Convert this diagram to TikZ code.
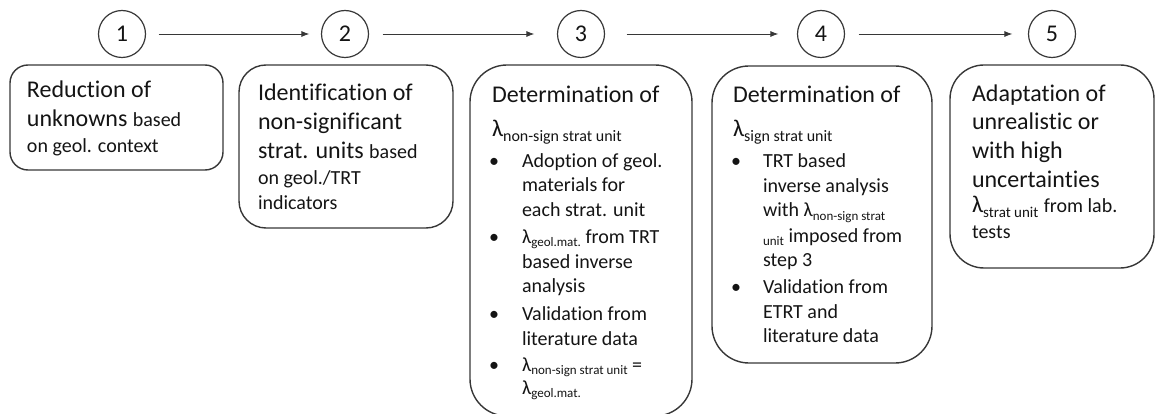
\documentclass[tikz,border=0pt]{standalone}
\usepackage{fontspec}
\setmainfont{Carlito}[Ligatures={NoCommon,NoRare,NoContextual}]
\usetikzlibrary{arrows.meta}
\definecolor{linegray}{RGB}{55,55,55}
\definecolor{textc}{RGB}{20,20,20}
\newcommand{\BigT}{\fontsize{24}{29}\selectfont}
\newcommand{\SmT}{\fontsize{20}{24}\selectfont}
\newcommand{\lamA}[1]{λ\raisebox{-4.5pt}{\fontsize{16}{16}\selectfont #1}}
\newcommand{\lamC}[1]{λ\raisebox{-4.5pt}{\fontsize{15}{15}\selectfont #1}}
\newcommand{\lamB}[1]{λ\raisebox{-3.5pt}{\fontsize{13}{13}\selectfont #1}}
\begin{document}
\begin{tikzpicture}[x=1pt,y=-1pt,
  stepcirc/.style={circle, draw=linegray, line width=1.2pt, minimum size=47pt, inner sep=0pt, font=\BigT, text=textc},
  stepbox/.style={draw=linegray, line width=1.4pt, inner sep=0pt},
  txt/.style={anchor=base west, inner sep=0pt, outer sep=0pt, text=textc},
  bul/.style={anchor=base, inner sep=0pt, outer sep=0pt, text=textc, font=\SmT},
  flow/.style={draw=linegray, line width=0.9pt, -{Latex[length=8pt,width=6pt]}}]
\useasboundingbox (0,0) rectangle (1156,414);
% step circles
\node[stepcirc] (c1) at (122,34) {1};
\node[stepcirc] (c2) at (345,34) {2};
\node[stepcirc] (c3) at (581,34) {3};
\node[stepcirc] (c4) at (821,34) {4};
\node[stepcirc] (c5) at (1052,34) {5};
% arrows
\draw[flow, shorten <=12.5pt, shorten >=11.5pt] (c1) -- (c2);
\draw[flow, shorten <=13.5pt, shorten >=22.5pt] (c2) -- (c3);
\draw[flow, shorten <=21.5pt, shorten >=18.5pt] (c3) -- (c4);
\draw[flow, shorten <=13.5pt, shorten >=15.5pt] (c4) -- (c5);
% boxes
\node[stepbox, rounded corners=18pt, minimum width=213pt, minimum height=105pt] (box1) at (116.5,117.5) {};
\node[stepbox, rounded corners=27pt, minimum width=214pt, minimum height=163pt] (box2) at (346,146.5) {};
\node[stepbox, rounded corners=37pt, minimum width=222pt, minimum height=351pt] (box3) at (581,240.5) {};
\node[stepbox, rounded corners=37pt, minimum width=220pt, minimum height=297pt] (box4) at (822,214.5) {};
\node[stepbox, rounded corners=34pt, minimum width=204pt, minimum height=203pt] (box5) at (1052,166.5) {};
% box 1 text
\node[txt] (t1a) at (27,98) {\BigT Reduction of};
\node[txt] (t1b) at (27,127) {\BigT unknowns {\SmT based}};
\node[txt] (t1c) at (27,153) {\SmT on geol. context};
% box 2 text
\node[txt] (t2a) at (258,101) {\BigT Identification of};
\node[txt] (t2b) at (258,130) {\BigT non-significant};
\node[txt] (t2c) at (258,159) {\BigT strat. units {\SmT based}};
\node[txt] (t2d) at (258,185) {\SmT on geol./TRT};
\node[txt] (t2e) at (258,210) {\SmT indicators};
% box 3 text
\node[txt] (t3a) at (492,103) {\BigT Determination of};
\node[txt] (t3b) at (492,137) {\BigT\lamA{non-sign strat unit}};
\node[bul] (b3a) at (494,168) {\textbullet};
\node[txt] (t3c) at (522,168) {\SmT Adoption of geol.};
\node[txt] (t3d) at (522,192) {\SmT materials for};
\node[txt] (t3e) at (522,217) {\SmT each strat. unit};
\node[bul] (b3b) at (494,243) {\textbullet};
\node[txt] (t3f) at (522,243) {\SmT\lamB{geol.mat.} from TRT};
\node[txt] (t3g) at (522,268) {\SmT based inverse};
\node[txt] (t3h) at (522,292) {\SmT analysis};
\node[bul] (b3c) at (494,320) {\textbullet};
\node[txt] (t3i) at (522,320) {\SmT Validation from};
\node[txt] (t3j) at (522,345) {\SmT literature data};
\node[bul] (b3d) at (494,371) {\textbullet};
\node[txt] (t3k) at (522,371) {\SmT\lamB{non-sign strat unit} =};
\node[txt] (t3l) at (522,394) {\SmT\lamB{geol.mat.}};
% box 4 text
\node[txt] (t4a) at (733,103) {\BigT Determination of};
\node[txt] (t4b) at (733,137) {\BigT\lamA{sign strat unit}};
\node[bul] (b4a) at (736,168) {\textbullet};
\node[txt] (t4c) at (763,168) {\SmT TRT based};
\node[txt] (t4d) at (763,193) {\SmT inverse analysis};
\node[txt] (t4e) at (763,217) {\SmT with \lamB{non-sign strat}};
\node[txt] (t4f) at (763,242) {\SmT\raisebox{-3.5pt}{\fontsize{13}{13}\selectfont unit} imposed from};
\node[txt] (t4g) at (763,266) {\SmT step 3};
\node[bul] (b4b) at (736,293) {\textbullet};
\node[txt] (t4h) at (763,293) {\SmT Validation from};
\node[txt] (t4i) at (763,318) {\SmT ETRT and};
\node[txt] (t4j) at (763,342) {\SmT literature data};
% box 5 text
\node[txt] (t5a) at (972,102) {\BigT Adaptation of};
\node[txt] (t5b) at (972,130) {\BigT unrealistic or};
\node[txt] (t5c) at (972,159) {\BigT with high};
\node[txt] (t5d) at (972,188) {\BigT uncertainties};
\node[txt] (t5e) at (972,213) {\BigT\lamC{strat unit} {\SmT from lab.}};
\node[txt] (t5f) at (972,238) {\SmT tests};
\end{tikzpicture}
\end{document}
